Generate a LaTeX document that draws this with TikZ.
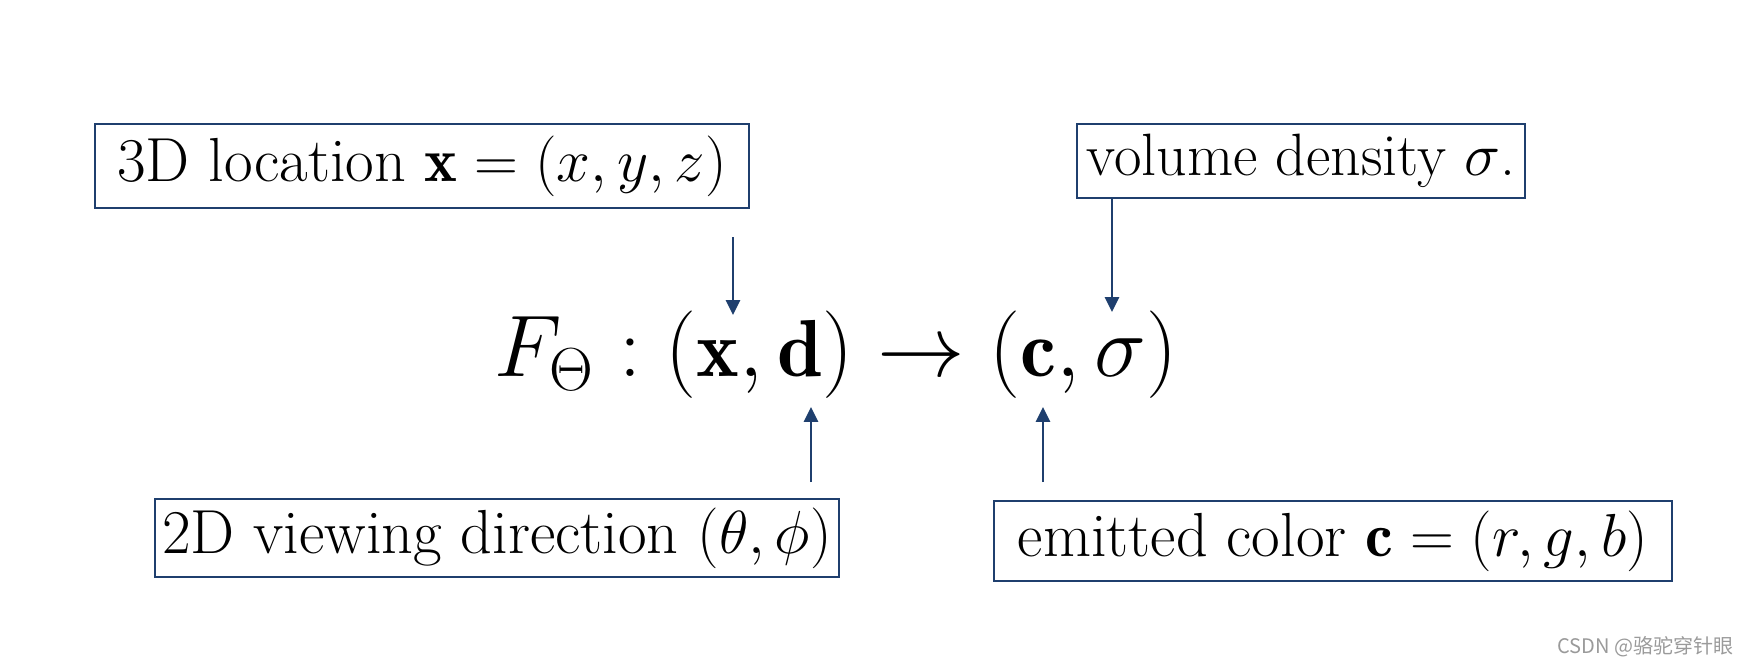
\documentclass[tikz,border=0pt]{standalone}
\usepackage{amsmath,amssymb}
\usepackage{fontspec}
\usepackage{tikz}
\usetikzlibrary{arrows.meta, positioning}
\newfontfamily\cjkfont{Noto Sans CJK SC}
\definecolor{navy}{HTML}{1F3F6E}
\definecolor{markgray}{HTML}{9A9A9A}

\begin{document}
\begin{tikzpicture}[x=0.01cm, y=-0.01cm,
    labelbox/.style={draw=navy, line width=0.6pt, inner xsep=1pt, inner ysep=0pt,
      font=\fontsize{17.7}{20}\selectfont},
    pointer/.style={navy, line width=0.5pt, -{Triangle[length=4.2pt, width=4pt]}}]
  \useasboundingbox (0,0) rectangle (1750,666);

  % the mapping
  \node[font=\fontsize{23}{28}\selectfont] (map) at (836,355)
    {$F_{\Theta} : (\mathbf{x}, \mathbf{d}) \rightarrow (\mathbf{c}, \sigma)$};

  % what goes in, what comes out
  \node[labelbox, minimum width=6.53cm, minimum height=0.84cm] (location) at (422,166)
    {3D location $\mathbf{x} = (x, y, z)$};
  \node[labelbox, font=\fontsize{17}{20}\selectfont, minimum width=4.47cm, minimum height=0.74cm]
    (density) at (1301,161) {volume density $\sigma$.};
  \node[labelbox, minimum width=6.83cm, minimum height=0.78cm] (direction) at (497,538)
    {2D viewing direction $(\theta, \phi)$};
  \node[labelbox, minimum width=6.78cm, minimum height=0.80cm] (color) at (1333,541)
    {emitted color $\mathbf{c} = (r, g, b)$};

  % pointers onto the formula
  \coordinate (xtail) at (733,237);
  \coordinate (xtip) at (733,315);
  \coordinate (sigmatip) at (1112,312);
  \coordinate (dtail) at (811,482);
  \coordinate (dtip) at (811,407);
  \coordinate (ctail) at (1043,482);
  \coordinate (ctip) at (1043,407);
  \draw[pointer] (xtail) -- (xtip);
  \draw[pointer] (density.south -| sigmatip) -- (sigmatip);
  \draw[pointer] (dtail) -- (dtip);
  \draw[pointer] (ctail) -- (ctip);

  \node[font=\cjkfont\fontsize{5.7}{7}\selectfont, text=markgray, anchor=east, inner sep=0pt]
    (mark) at (1734,647) {CSDN @骆驼穿针眼};
\end{tikzpicture}
\end{document}
